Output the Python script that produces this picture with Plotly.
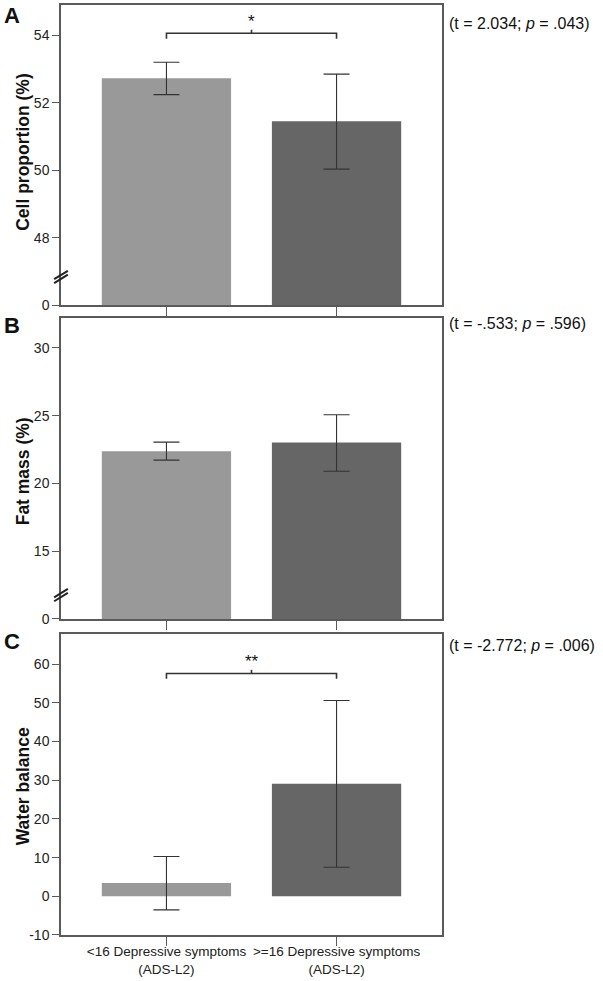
import plotly.graph_objects as go

# ---------------- data ----------------
groups = ["<16 Depressive symptoms<br>(ADS-L2)", ">=16 Depressive symptoms<br>(ADS-L2)"]
bar_colors = ["#999999", "#666666"]

cell_mean = [52.73, 51.45]
cell_low = [52.24, 50.03]
cell_high = [53.20, 52.85]

fat_mean = [22.38, 23.02]
fat_low = [21.72, 20.90]
fat_high = [23.05, 25.07]

water_mean = [3.45, 29.1]
water_low = [-3.5, 7.5]
water_high = [10.3, 50.6]

# broken axes: lowest tick is labelled "0"
cell_ticks = [46, 48, 50, 52, 54]
cell_ticktext = ["0", "48", "50", "52", "54"]
fat_ticks = [10, 15, 20, 25, 30]
fat_ticktext = ["0", "15", "20", "25", "30"]
water_ticks = [-10, 0, 10, 20, 30, 40, 50, 60]
water_ticktext = ["-10", "0", "10", "20", "30", "40", "50", "60"]

stats_text = ["(t = 2.034; <i>p</i> = .043)",
              "(t = -.533; <i>p</i> = .596)",
              "(t = -2.772; <i>p</i> = .006)"]
panel_letters = ["A", "B", "C"]
y_titles = ["Cell proportion (%)", "Fat mass (%)", "Water balance"]
sig_marks = ["*", None, "**"]
bracket_y = [54.06, None, 57.6]

FONT = "Arial, Liberation Sans, sans-serif"
x_pos = [0, 1]

panels = [
    (cell_mean, cell_low, cell_high, [46, 54.9], cell_ticks, cell_ticktext),
    (fat_mean, fat_low, fat_high, [10, 32.2], fat_ticks, fat_ticktext),
    (water_mean, water_low, water_high, [-10, 67.8], water_ticks, water_ticktext),
]
domains = [[0.6774, 1.0], [0.3398, 0.6634], [0.0, 0.3237]]
letter_y = [0.9882, 0.6559, 0.3161]
stats_y = [0.9796, 0.6570, 0.3118]
title_y = [0.8414, 0.4989, 0.1602]

fig = go.Figure()
AXCOL = "#5a5a5a"

for i, (mean, lo, hi, rng, tv, tt) in enumerate(panels):
    n = i + 1
    xa = "x" if n == 1 else f"x{n}"
    ya = "y" if n == 1 else f"y{n}"
    fig.add_trace(go.Bar(
        x=x_pos, y=mean, xaxis=xa, yaxis=ya,
        marker=dict(color=bar_colors, line=dict(width=0)),
        width=0.76,
        error_y=dict(type="data", symmetric=False,
                     array=[h - m for h, m in zip(hi, mean)],
                     arrayminus=[m - l for m, l in zip(mean, lo)],
                     color="#333333", thickness=1.1, width=13),
        showlegend=False, hoverinfo="skip",
    ))
    xkey = "xaxis" if n == 1 else f"xaxis{n}"
    ykey = "yaxis" if n == 1 else f"yaxis{n}"
    fig.layout[xkey] = dict(
        domain=[0, 1], anchor=ya, range=[-0.62, 1.62], automargin=False,
        tickmode="array", tickvals=x_pos,
        ticktext=groups if n == 3 else ["", ""],
        showticklabels=(n == 3),
        ticks="outside", ticklen=9, tickcolor=AXCOL, tickwidth=1,
        ticklabelstandoff=-6,
        showline=True, linecolor=AXCOL, linewidth=1.5, mirror=True,
        showgrid=False, zeroline=False,
        tickfont=dict(family=FONT, size=13.5, color="#222222"),
    )
    fig.layout[ykey] = dict(
        domain=domains[i], anchor=xa, range=rng, automargin=False,
        tickmode="array", tickvals=tv, ticktext=tt,
        ticks="outside", ticklen=7, tickcolor=AXCOL, tickwidth=1,
        showline=True, linecolor=AXCOL, linewidth=1.5, mirror=True,
        showgrid=False, zeroline=False,
        tickfont=dict(family=FONT, size=14, color="#222222"),
    )

    # y-axis title (rotated text)
    fig.add_annotation(xref="paper", yref="paper", x=-0.099, y=title_y[i],
                       xanchor="center", yanchor="middle", showarrow=False,
                       textangle=-90, text="<b>" + y_titles[i] + "</b>",
                       font=dict(family=FONT, size=17.5, color="#111111"))
    # panel letter
    fig.add_annotation(xref="paper", yref="paper", x=-0.155, y=letter_y[i],
                       xanchor="left", yanchor="middle", showarrow=False,
                       text="<b>" + panel_letters[i] + "</b>",
                       font=dict(family=FONT, size=22, color="#111111"))
    # stats text
    fig.add_annotation(xref="paper", yref="paper", x=1.012, y=stats_y[i],
                       xanchor="left", yanchor="middle", showarrow=False,
                       text=stats_text[i],
                       font=dict(family=FONT, size=16, color="#111111"))

    # significance bracket
    if bracket_y[i] is not None:
        by = bracket_y[i]
        span = rng[1] - rng[0]
        drop = span * 0.018
        nub = span * 0.012
        fig.add_shape(type="path", xref=xa, yref=ya,
                      path=f"M {x_pos[0]},{by - drop} L {x_pos[0]},{by} L {x_pos[1]},{by} L {x_pos[1]},{by - drop}",
                      line=dict(color="#333333", width=1.6))
        mid = (x_pos[0] + x_pos[1]) / 2
        fig.add_shape(type="line", xref=xa, yref=ya,
                      x0=mid, x1=mid, y0=by, y1=by + nub,
                      line=dict(color="#333333", width=1.6))
        fig.add_annotation(xref=xa, yref=ya, x=mid, y=by + nub,
                           yanchor="bottom", showarrow=False, yshift=-3,
                           text=sig_marks[i],
                           font=dict(family=FONT, size=17, color="#111111"))

# axis-break marks on panels A and B
for ya, frac in [("y", 0.10), ("y2", 0.086)]:
    for off in (-0.013, 0.0):
        fig.add_shape(type="line", xref="paper", yref=f"{ya} domain",
                      x0=-0.018, x1=0.018, y0=frac - 0.014 + off, y1=frac + 0.014 + off,
                      line=dict(color="#222222", width=2))

fig.update_layout(
    width=603, height=981,
    margin=dict(l=61, r=161, t=5, b=46, autoexpand=False),
    paper_bgcolor="white", plot_bgcolor="white",
    font=dict(family=FONT, color="#222222"),
    bargap=0.2,
)

fig.write_html(
    "out.html",
    config={"displayModeBar": False},
    post_script="document.body.style.margin='0';document.body.style.overflow='hidden';",
)
